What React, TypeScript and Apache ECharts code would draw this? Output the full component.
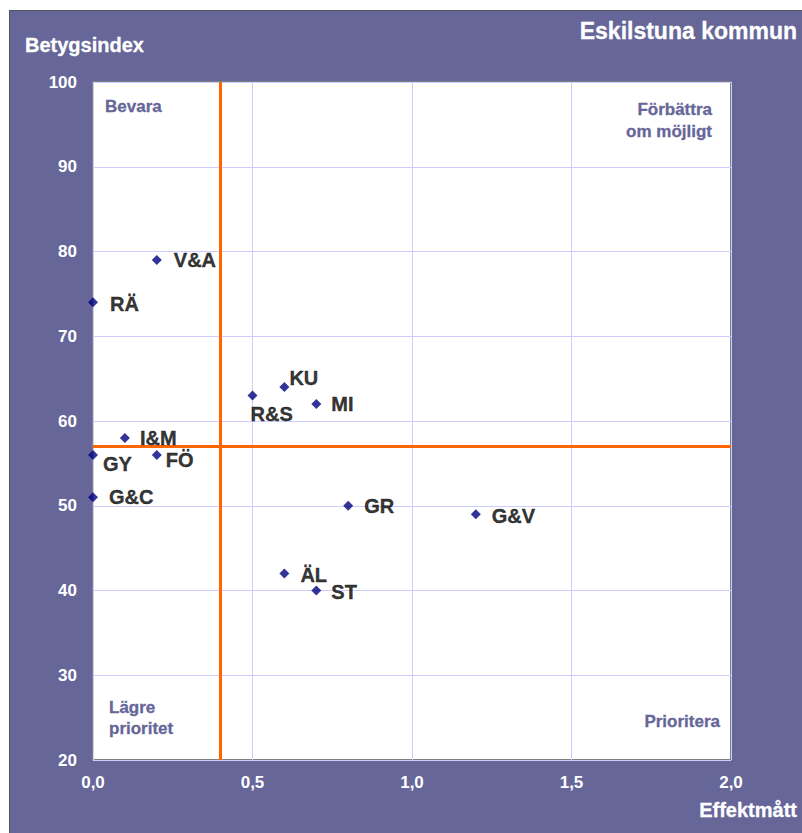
import React, { useEffect, useRef } from "react";
import * as echarts from "echarts";

const names = ["V&A", "RÄ", "KU", "R&S", "MI", "I&M", "GY", "FÖ", "G&C", "GR", "G&V", "ÄL", "ST"];
const effektmatt = [0.2, 0.0, 0.6, 0.5, 0.7, 0.1, 0.0, 0.2, 0.0, 0.8, 1.2, 0.6, 0.7];
const betygsindex = [79, 74, 64, 63, 62, 58, 56, 56, 51, 50, 49, 42, 40];
const thresholdX = 0.4;
const thresholdY = 57;

const title = "Eskilstuna kommun";
const yName = "Betygsindex";
const xName = "Effektmått";

// label placement per point: [distance, offsetX, offsetY]
const labelPlace: Record<string, [number, number, number]> = {
  "V&A": [12, 0, 0],
  "RÄ": [12, 0, 2],
  "KU": [0, 0, -9],
  "R&S": [0, -7, 18],
  "MI": [10, 0, 0],
  "I&M": [10, 0, 0],
  "GY": [5, 0, 9],
  "FÖ": [4, 0, 5],
  "G&C": [11, 0, 0],
  "GR": [11, 0, 0],
  "G&V": [11, 0, 2],
  "ÄL": [11, 0, 1],
  "ST": [10, 0, 1],
};

const PURPLE = "#666699";
const FONT = "'Liberation Sans', Arial, sans-serif";

export default function App() {
  const ref = useRef<HTMLDivElement>(null);
  useEffect(() => {
    if (!ref.current) return;
    const chart = echarts.init(ref.current, null, { renderer: "svg" });
    const data = names.map((n, i) => {
      const p = labelPlace[n] || [10, 0, 0];
      return {
        name: n,
        value: [effektmatt[i], betygsindex[i]],
        label: { distance: p[0], offset: [p[1], p[2]] },
      };
    });
    const quad = {
      fontFamily: FONT,
      fontWeight: "bold",
      fontSize: 17,
      fill: PURPLE,
      stroke: PURPLE,
      lineWidth: 0.3,
    };
    const white = {
      fontFamily: FONT,
      fontWeight: "bold",
      fill: "#ffffff",
      stroke: "#ffffff",
      lineWidth: 0.3,
    };
    chart.setOption({
      animation: false,
      backgroundColor: PURPLE,
      textStyle: { fontFamily: FONT },
      grid: {
        left: 83,
        top: 71,
        width: 638,
        height: 678,
        show: true,
        backgroundColor: "#ffffff",
        borderColor: "#808080",
        borderWidth: 2,
        containLabel: false,
      },
      xAxis: {
        type: "value",
        min: 0,
        max: 2,
        interval: 0.5,
        axisLine: { show: false },
        axisTick: { show: false },
        splitLine: { show: true, lineStyle: { color: "#ccccff", width: 1 } },
        axisLabel: {
          color: "#ffffff",
          fontWeight: "bold",
          fontSize: 17,
          fontFamily: FONT,
          margin: 14,
          formatter: (v: number) => v.toFixed(1).replace(".", ","),
        },
      },
      yAxis: {
        type: "value",
        min: 20,
        max: 100,
        interval: 10,
        axisLine: { show: false },
        axisTick: { show: false },
        splitLine: { show: true, lineStyle: { color: "#ccccff", width: 1 } },
        axisLabel: {
          color: "#ffffff",
          fontWeight: "bold",
          fontSize: 17,
          fontFamily: FONT,
          margin: 16,
        },
      },
      series: [
        {
          type: "scatter",
          symbol: "diamond",
          symbolSize: 10,
          itemStyle: { color: "#000080" },
          label: {
            show: true,
            position: "right",
            formatter: "{b}",
            color: "#000000",
            fontWeight: "bold",
            fontSize: 20,
            fontFamily: FONT,
            textBorderColor: "#000000",
            textBorderWidth: 0.4,
          },
          data,
          markLine: {
            silent: true,
            symbol: "none",
            label: { show: false },
            lineStyle: { color: "#ff6600", width: 3, type: "solid" },
            data: [{ xAxis: thresholdX }, { yAxis: thresholdY }],
          },
          z: 5,
        },
      ],
      graphic: [
        {
          type: "text",
          x: 787,
          y: 8,
          style: { ...white, text: title, fontSize: 23, align: "right", verticalAlign: "top" },
        },
        {
          type: "text",
          x: 15,
          y: 24,
          style: { ...white, text: yName, fontSize: 20, verticalAlign: "top" },
        },
        {
          type: "text",
          x: 787,
          y: 789,
          style: { ...white, text: xName, fontSize: 20, align: "right", verticalAlign: "top" },
        },
        {
          type: "text",
          x: 95,
          y: 87,
          style: { ...quad, text: "Bevara", verticalAlign: "top" },
        },
        {
          type: "text",
          x: 702,
          y: 87,
          style: { ...quad, text: "Förbättra\nom möjligt", align: "right", verticalAlign: "top", lineHeight: 22 },
        },
        {
          type: "text",
          x: 99,
          y: 686,
          style: { ...quad, text: "Lägre\nprioritet", verticalAlign: "top", lineHeight: 21 },
        },
        {
          type: "text",
          x: 710,
          y: 702,
          style: { ...quad, text: "Prioritera", align: "right", verticalAlign: "top" },
        },
      ],
    });
    return () => chart.dispose();
  }, []);
  return (
    <div
      style={{
        position: "absolute",
        left: 9,
        top: 10,
        borderLeft: "1px solid #555555",
        borderTop: "1px solid #555555",
      }}
    >
      <div ref={ref} style={{ width: 792, height: 822 }} />
    </div>
  );
}
